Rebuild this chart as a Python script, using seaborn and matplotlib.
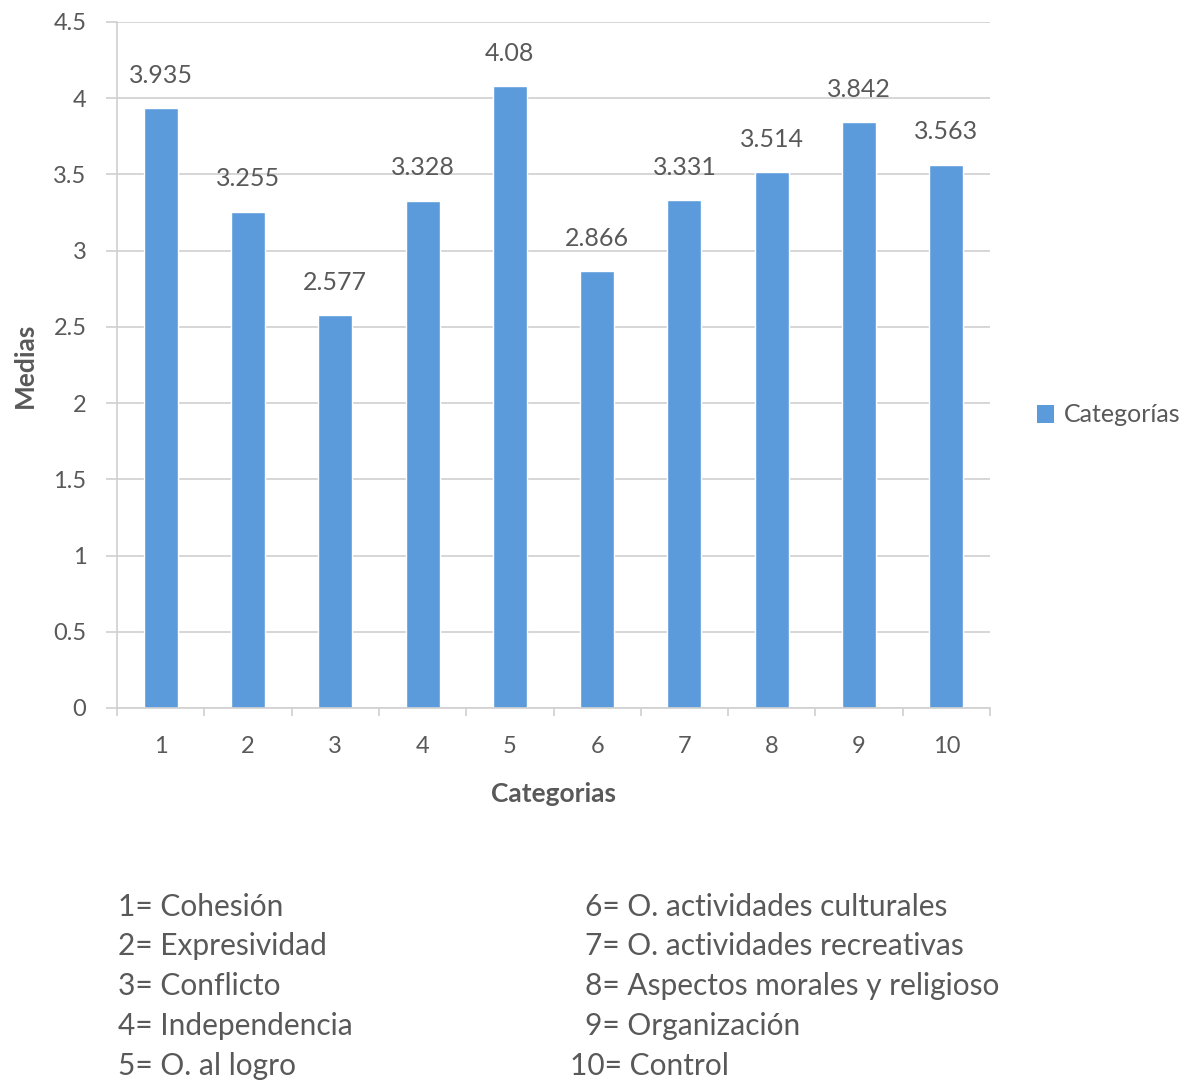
import matplotlib
matplotlib.use("Agg")
import matplotlib.pyplot as plt
import seaborn as sns
import pandas as pd
from matplotlib.patches import Patch

categorias = ["1", "2", "3", "4", "5", "6", "7", "8", "9", "10"]
medias = [3.935, 3.255, 2.577, 3.328, 4.08, 2.866, 3.331, 3.514, 3.842, 3.563]
etiquetas = ["3.935", "3.255", "2.577", "3.328", "4.08", "2.866", "3.331", "3.514", "3.842", "3.563"]
y_ticks = [0, 0.5, 1, 1.5, 2, 2.5, 3, 3.5, 4, 4.5]
y_tick_labels = ["0", "0.5", "1", "1.5", "2", "2.5", "3", "3.5", "4", "4.5"]
descripciones_izq = ["1= Cohesión", "2= Expresividad", "3= Conflicto",
                     "4= Independencia", "5= O. al logro"]
descripciones_der = ["6= O. actividades culturales", "7= O. actividades recreativas",
                     "8= Aspectos morales y religioso", "9= Organización", "10= Control"]

sns.set_theme(style="white")
plt.rcParams["font.family"] = ["Lato", "DejaVu Sans"]

GRAY = "#595959"
GRID = "#d0d0d0"
BLUE = "#5b9bdc"

df = pd.DataFrame({"Categorias": categorias, "Medias": medias})

W, H = 1199, 1083
fig = plt.figure(figsize=(W / 100, H / 100), dpi=100)
ax = fig.add_axes([117 / W, 1 - 708 / H, (990 - 117) / W, (708 - 22) / H])

sns.barplot(data=df, x="Categorias", y="Medias", color=BLUE, width=0.39,
            saturation=1, ax=ax, order=categorias)

ax.set_ylim(0, 4.5)
ax.set_xlim(-0.5, len(categorias) - 0.5)
ax.set_yticks(y_ticks)
ax.set_yticklabels(y_tick_labels)
ax.yaxis.grid(True, color=GRID, linewidth=1.2)
ax.set_axisbelow(True)

for side in ["top", "right"]:
    ax.spines[side].set_visible(False)
for side in ["left", "bottom"]:
    ax.spines[side].set_color(GRID)
    ax.spines[side].set_linewidth(1.2)

ax.tick_params(axis="y", which="major", length=8, width=1.2, color=GRID,
               labelsize=17, labelcolor=GRAY, pad=14, left=True)
ax.tick_params(axis="x", which="major", length=0, labelsize=17,
               labelcolor=GRAY, pad=20)
ax.set_xticks(range(len(categorias)), minor=False)
ax.set_xticks([i - 0.5 for i in range(len(categorias) + 1)], minor=True)
ax.tick_params(axis="x", which="minor", length=6, width=1.2, color=GRID, bottom=True)

for i, (v, t) in enumerate(zip(medias, etiquetas)):
    ax.text(i, v + 0.14, t, ha="center", va="bottom", fontsize=18, color=GRAY)

ax.set_xlabel("Categorias", fontsize=19, color=GRAY, fontweight="bold", labelpad=18)
ax.set_ylabel("Medias", fontsize=19, color=GRAY, fontweight="bold", labelpad=12)

fig.legend(handles=[Patch(facecolor=BLUE, edgecolor="none", label="Categorías")],
           loc="center left", bbox_to_anchor=(1014 / W, 1 - 415 / H),
           frameon=False, fontsize=18, handlelength=0.7, handleheight=0.7,
           handletextpad=0.4, labelcolor=GRAY)

rows_y = [907, 946, 986, 1026, 1066]
for yy, txt in zip(rows_y, descripciones_izq):
    fig.text(118 / W, 1 - yy / H, txt, ha="left", va="center", fontsize=21.5, color=GRAY)
for yy, txt in zip(rows_y, descripciones_der):
    x0 = 570 if txt.startswith("10") else 585
    fig.text(x0 / W, 1 - yy / H, txt, ha="left", va="center", fontsize=21.5, color=GRAY)

fig.savefig("out.png", dpi=100, facecolor="white")
